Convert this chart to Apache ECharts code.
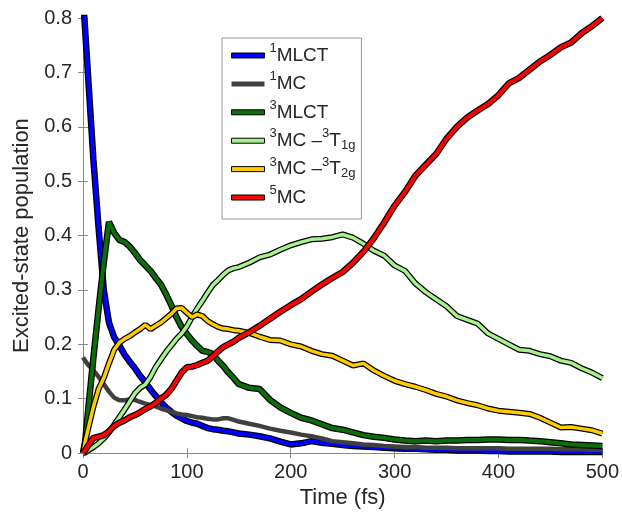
<!DOCTYPE html>
<html><head><meta charset="utf-8">
<script src="https://cdn.jsdelivr.net/npm/echarts@6/dist/echarts.min.js"></script>
<style>html,body{margin:0;padding:0;background:#fff}#c{width:622px;height:514px}</style>
</head><body><div id="c"></div>
<script>
const times = [0,2,5,10,15,20,25,30,35,40,45,50,55,60,65,70,75,80,85,90,95,100,105,110,115,120,125,130,135,140,145,150,160,170,180,190,200,210,220,230,240,250,260,270,280,290,300,310,320,330,340,350,360,370,380,390,400,410,420,430,440,450,460,470,480,490,500];
const mlct1 = [0.84,0.78,0.69,0.54,0.415,0.30,0.24,0.213,0.198,0.181,0.168,0.156,0.142,0.13,0.117,0.105,0.094,0.084,0.076,0.069,0.064,0.059,0.056,0.054,0.05,0.046,0.044,0.043,0.041,0.04,0.038,0.036,0.034,0.031,0.027,0.021,0.016,0.018,0.022,0.019,0.017,0.015,0.013,0.012,0.011,0.01,0.009,0.008,0.008,0.007,0.006,0.006,0.005,0.005,0.005,0.004,0.004,0.003,0.003,0.003,0.003,0.003,0.002,0.002,0.002,0.002,0.002];
const mc1 = [0.176,0.17,0.162,0.152,0.14,0.127,0.113,0.102,0.097,0.097,0.099,0.098,0.094,0.091,0.088,0.086,0.082,0.079,0.076,0.073,0.071,0.07,0.068,0.066,0.065,0.063,0.062,0.062,0.064,0.064,0.061,0.058,0.054,0.05,0.045,0.041,0.038,0.034,0.031,0.027,0.022,0.02,0.018,0.016,0.015,0.013,0.012,0.011,0.011,0.01,0.01,0.01,0.009,0.009,0.009,0.009,0.009,0.008,0.008,0.008,0.008,0.008,0.007,0.007,0.007,0.006,0.006];
const mlct3 = [0,0.02,0.08,0.175,0.265,0.35,0.425,0.405,0.392,0.388,0.38,0.368,0.355,0.345,0.335,0.322,0.31,0.292,0.272,0.25,0.232,0.219,0.207,0.197,0.188,0.186,0.182,0.17,0.16,0.148,0.138,0.127,0.12,0.118,0.098,0.084,0.074,0.065,0.06,0.053,0.046,0.043,0.038,0.033,0.03,0.028,0.025,0.023,0.022,0.023,0.022,0.023,0.023,0.024,0.024,0.025,0.025,0.024,0.024,0.023,0.022,0.02,0.018,0.016,0.015,0.014,0.013];
const mcT1g = [0,0.001,0.005,0.011,0.018,0.027,0.038,0.052,0.066,0.08,0.095,0.11,0.12,0.126,0.14,0.158,0.172,0.186,0.198,0.21,0.22,0.233,0.25,0.266,0.28,0.295,0.309,0.318,0.328,0.336,0.34,0.342,0.35,0.36,0.365,0.374,0.382,0.388,0.393,0.394,0.397,0.402,0.396,0.385,0.372,0.363,0.345,0.335,0.312,0.296,0.283,0.27,0.252,0.245,0.238,0.22,0.21,0.2,0.19,0.188,0.182,0.178,0.17,0.166,0.156,0.148,0.138];
const mcT2g = [0,0.02,0.045,0.085,0.118,0.138,0.165,0.19,0.203,0.21,0.215,0.222,0.228,0.236,0.228,0.234,0.24,0.248,0.256,0.266,0.267,0.258,0.25,0.255,0.252,0.243,0.237,0.232,0.229,0.228,0.226,0.225,0.221,0.214,0.208,0.207,0.2,0.196,0.188,0.182,0.179,0.17,0.161,0.165,0.152,0.142,0.133,0.127,0.122,0.116,0.109,0.104,0.097,0.092,0.088,0.082,0.078,0.076,0.074,0.072,0.065,0.056,0.047,0.048,0.045,0.042,0.036];
const mc5 = [0,0.005,0.014,0.028,0.03,0.033,0.04,0.05,0.056,0.06,0.066,0.07,0.075,0.081,0.086,0.092,0.1,0.107,0.118,0.133,0.148,0.158,0.159,0.162,0.166,0.17,0.178,0.187,0.195,0.2,0.205,0.212,0.222,0.234,0.247,0.26,0.272,0.283,0.297,0.31,0.322,0.333,0.35,0.37,0.395,0.424,0.455,0.48,0.51,0.53,0.55,0.578,0.6,0.617,0.63,0.642,0.658,0.68,0.69,0.705,0.72,0.732,0.746,0.755,0.772,0.785,0.8];
const xTicks = [0,100,200,300,400,500];
const yTicks = [0,0.1,0.2,0.3,0.4,0.5,0.6,0.7,0.8];

const FONT = 'Liberation Sans, Arial, sans-serif';
const TXT = '#262626';
const AX = '#8a8a8a';

const defs = [
  {name:'1MLCT', data:mlct1, color:'#0000ff', w:4, ow:6.5},
  {name:'1MC', data:mc1, color:'#404040', w:4.5, ow:0},
  {name:'3MLCT', data:mlct3, color:'#0b6e0b', w:4, ow:6.5},
  {name:'3MCT1g', data:mcT1g, color:'#a8f28e', w:3.5, ow:6},
  {name:'3MCT2g', data:mcT2g, color:'#ffcc00', w:3.5, ow:6},
  {name:'5MC', data:mc5, color:'#ff0000', w:4, ow:6.5}
];
const labels = {
  '1MLCT':'{sup|1}{n|MLCT}',
  '1MC':'{sup|1}{n|MC}',
  '3MLCT':'{sup|3}{n|MLCT}',
  '3MCT1g':'{sup|3}{n|MC –}{sup|3}{n|T}{sub|1g}',
  '3MCT2g':'{sup|3}{n|MC –}{sup|3}{n|T}{sub|2g}',
  '5MC':'{sup|5}{n|MC}'
};

const series = [];
defs.forEach((d, k) => {
  const pts = times.map((t, i) => [t, d.data[i]]);
  if (d.ow > 0) {
    series.push({type:'line', name:d.name+'_o', data:pts, showSymbol:false, silent:true,
      lineStyle:{color:'#000', width:d.ow}, z:2+k*2, animation:false});
  }
  series.push({type:'line', name:d.name, data:pts, showSymbol:false, silent:true,
    itemStyle:{color:d.color}, lineStyle:{color:d.color, width:d.w}, z:3+k*2, animation:false});
});

const chart = echarts.init(document.getElementById('c'), null, {renderer:'canvas'});
const axisCommon = {
  axisLine:{show:true, lineStyle:{color:AX, width:1}},
  axisTick:{show:true, inside:true, length:5, lineStyle:{color:AX}},
  splitLine:{show:false}
};
chart.setOption({
  backgroundColor:'#fff',
  animation:false,
  grid:{left:83, right:15, top:18, bottom:57.5, containLabel:false},
  xAxis:[
    Object.assign({type:'value', min:0, max:500, interval:100, position:'bottom',
      name:'Time (fs)', nameLocation:'middle', nameGap:23,
      nameTextStyle:{fontFamily:FONT, fontSize:22, color:TXT},
      axisLabel:{fontFamily:FONT, fontSize:20, color:TXT, margin:9}}, axisCommon),
    Object.assign({type:'value', min:0, max:500, interval:100, position:'top',
      axisLabel:{show:false}}, axisCommon)
  ],
  yAxis:[
    Object.assign({type:'value', min:0, max:0.8, interval:0.1, position:'left',
      name:'Excited-state population', nameLocation:'middle', nameGap:50,
      nameTextStyle:{fontFamily:FONT, fontSize:22, color:TXT},
      axisLabel:{fontFamily:FONT, fontSize:20, color:TXT, margin:11,
        formatter:v => (Math.round(v*10)/10).toString()}}, axisCommon),
    Object.assign({type:'value', min:0, max:0.8, interval:0.1, position:'right',
      axisLabel:{show:false}}, axisCommon)
  ],
  legend:{
    show:true, orient:'vertical', left:222, top:38,
    padding:[4,6,8,9], itemGap:1.4, itemWidth:33, itemHeight:5,
    icon:'rect', backgroundColor:'#fff', borderColor:'#9a9a9a', borderWidth:1,
    itemStyle:{borderColor:'#000', borderWidth:1},
    data: defs.map(d => d.ow > 0 ? {name:d.name} : {name:d.name, itemStyle:{borderWidth:0}}),
    formatter: n => labels[n],
    textStyle:{fontFamily:FONT, color:TXT, rich:{
      n:{fontFamily:FONT, fontSize:19, color:TXT, lineHeight:22},
      sup:{fontFamily:FONT, fontSize:13, color:TXT, lineHeight:22, padding:[0,0,14,0]},
      sub:{fontFamily:FONT, fontSize:13, color:TXT, lineHeight:22, padding:[9,0,0,0]}
    }},
    selectedMode:false
  },
  series: series
});
</script></body></html>
